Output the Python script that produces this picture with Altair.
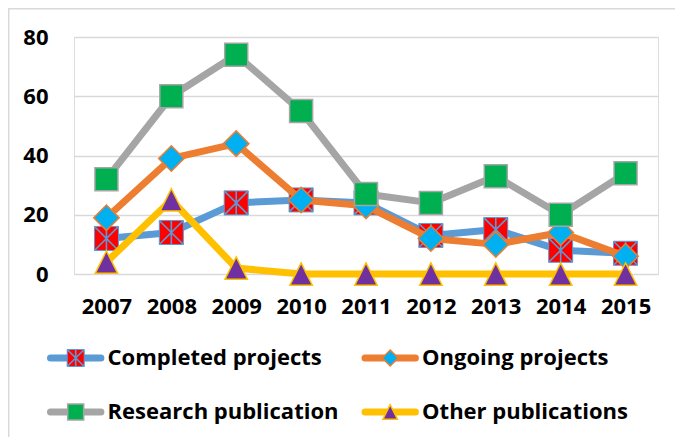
import altair as alt
import pandas as pd

# ---------------- data ----------------
years = ["2007", "2008", "2009", "2010", "2011", "2012", "2013", "2014", "2015"]
completed = [12, 14, 24, 25, 24, 13, 15, 8, 7]
ongoing = [19, 39, 44, 25, 23, 12, 10, 14, 6]
research = [32, 60, 74, 55, 27, 24, 33, 20, 34]
other = [4, 25, 2, 0, 0, 0, 0, 0, 0]

series_names = ["Completed projects", "Ongoing projects", "Research publication", "Other publications"]
legend_col = [0, 1, 0, 1]
legend_row = [0, 0, 1, 1]
y_ticks = [0, 20, 40, 60, 80]

series_values = [completed, ongoing, research, other]
rows = []
for name, vals in zip(series_names, series_values):
    for yr, v in zip(years, vals):
        rows.append({"year": yr, "value": v, "series": name})
df = pd.DataFrame(rows)

leg_df = pd.DataFrame({"series": series_names, "col": legend_col, "row": legend_row})

# ---------------- styles ----------------
FONT = "Open Sans"
FW = "bold"
FS = 22
W, H = 584, 237
line_colors = ["#5B9BD5", "#ED7D31", "#A5A5A5", "#FFC000"]
STAR = "M-1,-1L1,1M-1,1L1,-1M0,-1L0,1"
TRI = "M0,-1L1,1L-1,1Z"

x_enc = alt.X(
    "year:O",
    scale=alt.Scale(domain=years, padding=0.5),
    axis=alt.Axis(title=None, labelAngle=0, domain=False, ticks=False, grid=False,
                  labelPadding=22, labelFontSize=FS, labelFont=FONT,
                  labelFontWeight=FW, labelColor="black"),
)
y_enc = alt.Y(
    "value:Q",
    scale=alt.Scale(domain=[0, 80], nice=False, zero=True),
    axis=alt.Axis(title=None, values=y_ticks, domain=False, ticks=False, grid=True,
                  gridColor="#D9D9D9", gridWidth=1.5, labelPadding=26,
                  labelFontSize=FS, labelFont=FONT, labelFontWeight=FW,
                  labelColor="black", labelAlign="right", labelBaseline="middle"),
)


def marker_layers(base, idx, big=True):
    """Return marker layers for series idx (chart markers when big, legend when not)."""
    if idx == 0:
        s = 576 if big else 289
        return [
            base.mark_point(shape="square", size=s, filled=True, fill="#FF0000",
                            stroke="#5B9BD5", strokeWidth=1, opacity=1),
            base.mark_point(shape=STAR, size=s, filled=False, stroke="#5B9BD5",
                            strokeWidth=1.6, opacity=1),
        ]
    if idx == 1:
        s = 650 if big else 256
        return [base.mark_point(shape="diamond", size=s, filled=True, fill="#00B0F0",
                                stroke="#ED7D31", strokeWidth=1.5, opacity=1)]
    if idx == 2:
        s = 529 if big else 256
        return [base.mark_point(shape="square", size=s, filled=True, fill="#00B050",
                                stroke="#A5A5A5", strokeWidth=1.5, opacity=1)]
    s = 500 if big else 210
    return [base.mark_point(shape=TRI, size=s, filled=True, fill="#7030A0",
                            stroke="#FFC000", strokeWidth=1.5, opacity=1)]


# ---------------- main series ----------------
main_layers = []
for i, name in enumerate(series_names):
    base = alt.Chart(df).transform_filter(alt.datum.series == name)
    main_layers.append(
        base.mark_line(color=line_colors[i], strokeWidth=7, strokeJoin="round",
                       strokeCap="round").encode(x=x_enc, y=y_enc)
    )
    for m in marker_layers(base, i, big=True):
        main_layers.append(m.encode(x=x_enc, y=y_enc))
main = alt.layer(*main_layers)

# ---------------- legend ----------------
LEG_STEP = 314.5
half_line = 25.2 / LEG_STEP
text_off = 31.9 / LEG_STEP
lx_scale = alt.Scale(domain=[0, 1], range=[1.7, 1.7 + LEG_STEP])
ly = alt.Y("row:Q", scale=alt.Scale(domain=[0, 1], range=[321, 375]), axis=None)

leg_layers = []
for i, name in enumerate(series_names):
    lb = (alt.Chart(leg_df)
          .transform_filter(alt.datum.series == name)
          .transform_calculate(x0=f"datum.col - {half_line}",
                               x1=f"datum.col + {half_line}",
                               xt=f"datum.col + {text_off}"))
    leg_layers.append(
        lb.mark_rule(color=line_colors[i], strokeWidth=7, strokeCap="round").encode(
            x=alt.X("x0:Q", scale=lx_scale, axis=None), x2="x1:Q", y=ly)
    )
    for m in marker_layers(lb, i, big=False):
        leg_layers.append(m.encode(x=alt.X("col:Q", scale=lx_scale, axis=None), y=ly))
    leg_layers.append(
        lb.mark_text(align="left", baseline="middle", font=FONT, fontSize=FS,
                     fontWeight=FW, color="black").encode(
            x=alt.X("xt:Q", scale=lx_scale, axis=None), y=ly, text="series:N")
    )
legend = alt.layer(*leg_layers)

# ---------------- frame ----------------
dummy = pd.DataFrame({"a": [0]})
frame_top = alt.Chart(dummy).mark_rule(color="#D9D9D9", strokeWidth=1.5).encode(
    x=alt.value(-66), x2=alt.value(601), y=alt.value(-28.3))
frame_left = alt.Chart(dummy).mark_rule(color="#D9D9D9", strokeWidth=1.5).encode(
    x=alt.value(-65.3), y=alt.value(-29), y2=alt.value(400))

chart = (
    alt.layer(frame_top, frame_left, main, legend)
    .resolve_scale(x="independent", y="independent")
    .properties(width=W, height=H,
                autosize=alt.AutoSizeParams(type="none"),
                padding={"left": 66, "top": 29, "right": 17, "bottom": 163})
    .configure_view(stroke=None)
    .configure(background="white")
)

chart.save("out.html", embed_options={"renderer": "svg", "actions": False})
